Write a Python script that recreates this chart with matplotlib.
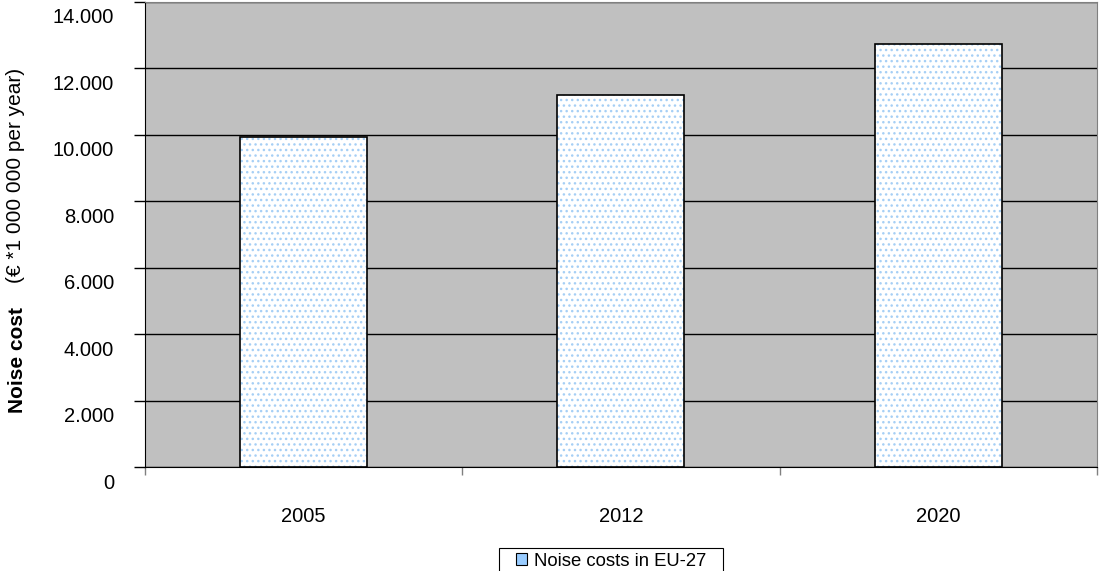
import matplotlib
matplotlib.use("Agg")
import matplotlib.pyplot as plt
import matplotlib.transforms as mtransforms
from matplotlib.patches import Patch, Rectangle

plt.rcParams['font.family'] = ['Liberation Sans', 'DejaVu Sans']

# data
years = ['2005', '2012', '2020']
costs = [9950, 11200, 12750]
ytick_vals = [0, 2000, 4000, 6000, 8000, 10000, 12000, 14000]
ytick_labels = ['0', '2.000', '4.000', '6.000', '8.000', '10.000', '12.000', '14.000']

W, H = 1099, 571
fig = plt.figure(figsize=(W / 100, H / 100), dpi=100)
ax = fig.add_axes([0.1319, 0.1821, 0.8661, 0.8144])
ax.set_facecolor('#C0C0C0')

x = list(range(len(years)))
# dotted fill then black outline
ax.bar(x, costs, width=0.4, color='white', edgecolor='#A6CFF5', hatch='...', linewidth=0, zorder=2)
ax.bar(x, costs, width=0.4, fill=False, edgecolor='black', linewidth=1.2, zorder=3)

ax.set_xlim(-0.5, 2.5)
ax.set_ylim(0, 14000)

# y ticks: labels sit a bit below their tick, as in the original
ax.set_yticks(ytick_vals)
ax.set_yticklabels([])
ax.tick_params(axis='y', direction='out', length=8, width=1, color='black')
offset = mtransforms.ScaledTranslation(-31 / 100, -16 / 100, fig.dpi_scale_trans)
for v, lab in zip(ytick_vals, ytick_labels):
    ax.text(0, v, lab, transform=ax.get_yaxis_transform() + offset,
            ha='right', va='center', fontsize=14.5, clip_on=False)
ax.yaxis.grid(True, color='black', linewidth=1)
ax.set_axisbelow(True)

ax.set_xticks(x)
ax.set_xticklabels(years, fontsize=14.5)
ax.set_xticks([-0.5, 0.5, 1.5, 2.5], minor=True)
ax.tick_params(axis='x', which='major', length=0, pad=29)
ax.tick_params(axis='x', which='minor', direction='out', length=6, width=1, color='#808080')

ax.spines['left'].set_color('black')
ax.spines['bottom'].set_color('black')
ax.spines['top'].set_color('#808080')
ax.spines['right'].set_color('#808080')

fig.text(0.0155, 0.370, 'Noise cost', rotation=90, fontsize=15, fontweight='bold', ha='center', va='center')
fig.text(0.0145, 0.692, '(€ *1 000 000 per year)', rotation=90, fontsize=15, ha='center', va='center')

# legend without frame, box drawn separately (wider padding than matplotlib's)
leg = fig.legend(handles=[Patch(facecolor='#99CCFF', edgecolor='black', linewidth=0.8)],
                 labels=['Noise costs in EU-27'], loc='upper center', bbox_to_anchor=(0.556, 0.0403),
                 fontsize=13.3, frameon=False, handlelength=0.6, handleheight=0.6,
                 handletextpad=0.4, borderpad=0.25, borderaxespad=0)
fig.add_artist(Rectangle((499 / W, -0.01), 224 / W, 1 - 548 / H + 0.01,
                         transform=fig.transFigure, fill=False, edgecolor='black', linewidth=0.8))

fig.savefig('out.png', dpi=100)
